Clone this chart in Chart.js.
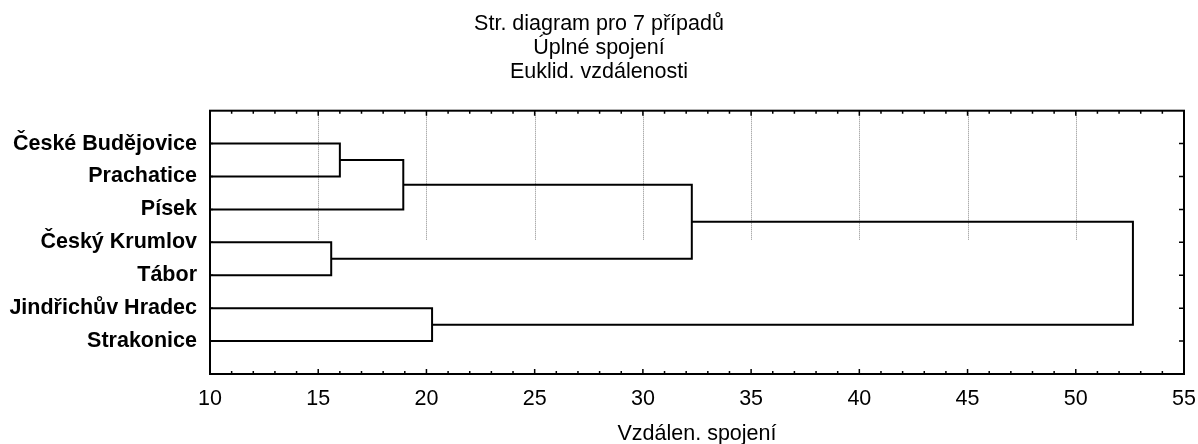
<!DOCTYPE html>
<html><head><meta charset="utf-8">
<script src="https://cdn.jsdelivr.net/npm/chart.js@4/dist/chart.umd.min.js"></script>
<style>html,body{margin:0;padding:0;background:#fff}</style>
</head><body><canvas id="c" width="1198" height="444"></canvas>
<script>
const titleLines = ['Str. diagram pro 7 případů', 'Úplné spojení', 'Euklid. vzdálenosti'];
const caseLabels = ['České Budějovice', 'Prachatice', 'Písek', 'Český Krumlov', 'Tábor', 'Jindřichův Hradec', 'Strakonice'];
const xTickValues = [10, 15, 20, 25, 30, 35, 40, 45, 50, 55];
// merges: leaves are 0..6, each merge creates node 7, 8, ...
const mergeLeft = [3, 0, 8, 5, 9, 11];
const mergeRight = [4, 1, 2, 6, 7, 10];
const mergeHeight = [15.6, 16.0, 18.93, 20.26, 32.26, 52.64];
const xAxisTitle = 'Vzdálen. spojení';

const FONT = "'Liberation Sans', Arial, sans-serif";
const FS = 21.5;

const nodeY = caseLabels.map((_, i) => i + 1);
const nodeH = caseLabels.map(() => 0);
const datasets = [];
mergeHeight.forEach((h, k) => {
  const a = mergeLeft[k], b = mergeRight[k];
  const yA = nodeY[a], yB = nodeY[b];
  datasets.push({
    data: [{x: nodeH[a], y: yA}, {x: h, y: yA}, {x: h, y: yB}, {x: nodeH[b], y: yB}],
    showLine: true, borderColor: '#000', borderWidth: 2, pointRadius: 0, tension: 0, fill: false
  });
  nodeY.push((yA + yB) / 2);
  nodeH.push(h);
});

const framePlugin = {
  id: 'frame',
  beforeDatasetsDraw(chart) {
    const {ctx, chartArea: ca, scales: {x, y}} = chart;
    const yEnd = y.getPixelForValue(3.95);
    ctx.save();
    ctx.strokeStyle = '#8a8a8a';
    ctx.lineWidth = 1;
    ctx.setLineDash([1, 1]);
    xTickValues.slice(1, -1).forEach(v => {
      const px = Math.round(x.getPixelForValue(v)) + 0.5;
      ctx.beginPath(); ctx.moveTo(px, ca.top); ctx.lineTo(px, yEnd); ctx.stroke();
    });
    ctx.restore();
  },
  afterDatasetsDraw(chart) {
    const {ctx, chartArea: ca, scales: {x, y}} = chart;
    ctx.save();
    ctx.strokeStyle = '#000';
    ctx.lineWidth = 1.5;
    for (let v = x.min; v <= x.max; v++) {
      const px = x.getPixelForValue(v);
      const len = (v % 5 === 0) ? 5 : 3;
      ctx.beginPath();
      ctx.moveTo(px, ca.bottom); ctx.lineTo(px, ca.bottom - len);
      ctx.moveTo(px, ca.top); ctx.lineTo(px, ca.top + len);
      ctx.stroke();
    }
    nodeY.slice(0, caseLabels.length).forEach(v => {
      const py = y.getPixelForValue(v);
      ctx.beginPath();
      ctx.moveTo(ca.right, py); ctx.lineTo(ca.right - 5, py);
      ctx.moveTo(ca.left, py); ctx.lineTo(ca.left + 3, py);
      ctx.stroke();
    });
    ctx.lineWidth = 2;
    ctx.strokeRect(ca.left, ca.top, ca.right - ca.left, ca.bottom - ca.top);
    ctx.restore();
  }
};

new Chart(document.getElementById('c'), {
  type: 'scatter',
  data: {datasets},
  plugins: [framePlugin],
  options: {
    responsive: false, animation: false, devicePixelRatio: 1,
    layout: {padding: 0},
    plugins: {
      legend: {display: false}, tooltip: {enabled: false},
      title: {display: true, text: titleLines, color: '#000', font: {family: FONT, size: FS, weight: 'normal', lineHeight: 24 / FS}, padding: {top: 11.8, bottom: 26.9}}
    },
    scales: {
      x: {
        type: 'linear', min: 10, max: 55,
        afterBuildTicks: s => { s.ticks = xTickValues.map(v => ({value: v})); },
        afterFit: s => { s.height = 70; s.paddingRight = 14; s.paddingLeft = 0; },
        ticks: {color: '#000', font: {family: FONT, size: FS}, padding: 11.9, maxRotation: 0},
        grid: {display: false, drawTicks: false}, border: {display: false},
        title: {display: true, text: xAxisTitle, color: '#000', font: {family: FONT, size: FS, lineHeight: 0.9}, padding: {top: 0, bottom: 0}}
      },
      y: {
        type: 'linear', reverse: true, min: 0, max: 8,
        afterBuildTicks: s => { s.ticks = nodeY.slice(0, caseLabels.length).map(v => ({value: v})); },
        afterFit: s => { s.width = 210; s.paddingTop = 0; s.paddingBottom = 0; },
        ticks: {autoSkip: false, color: '#000', font: {family: FONT, size: FS, weight: 'bold'}, padding: 13,
          callback: v => caseLabels[v - 1] || ''},
        grid: {display: false, drawTicks: false}, border: {display: false}
      }
    }
  }
});
</script></body></html>
